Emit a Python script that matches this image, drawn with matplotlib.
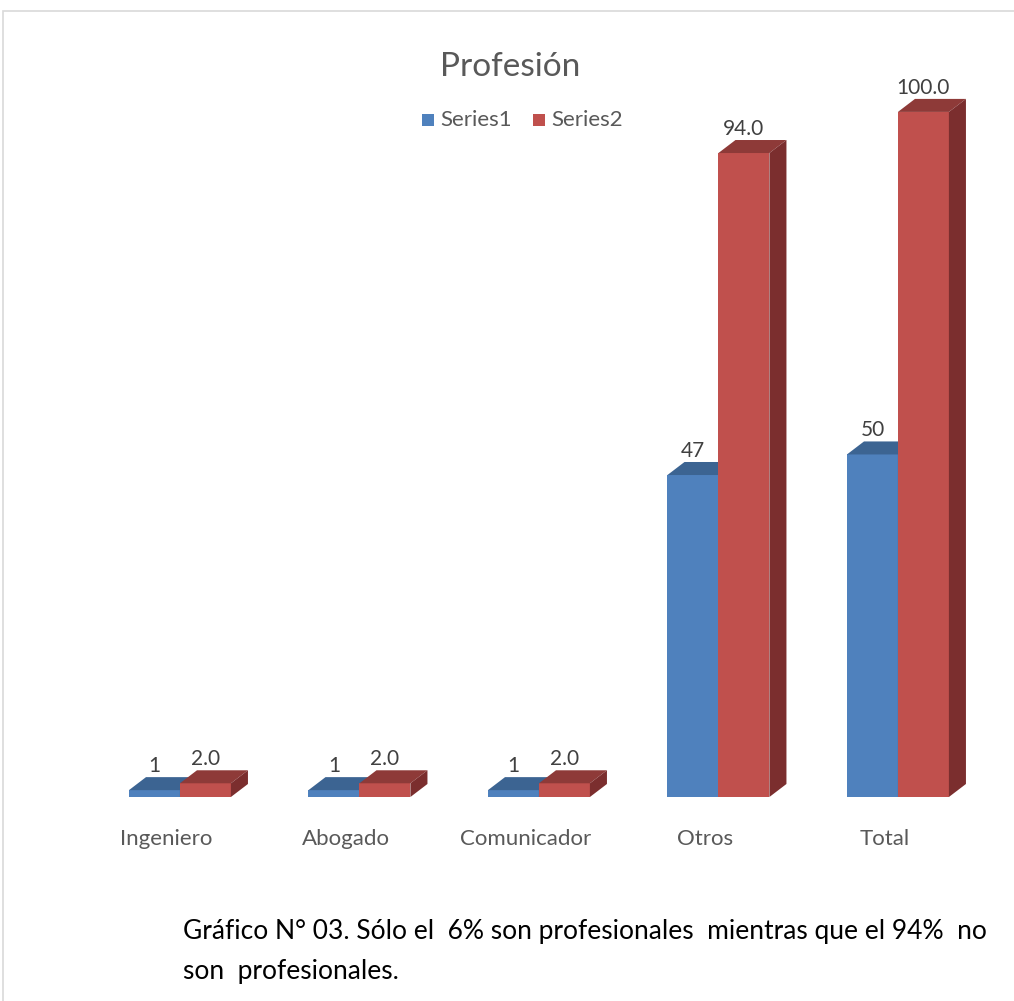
import matplotlib.pyplot as plt
from matplotlib.patches import Polygon, Rectangle

categories = ["Ingeniero", "Abogado", "Comunicador", "Otros", "Total"]
series1 = [1, 1, 1, 47, 50]
series2 = [2.0, 2.0, 2.0, 94.0, 100.0]
labels1 = ["1", "1", "1", "47", "50"]
labels2 = ["2.0", "2.0", "2.0", "94.0", "100.0"]

plt.rcParams['font.family'] = ['Lato', 'DejaVu Sans']

W, H = 1014, 1001
fig = plt.figure(figsize=(W / 100, H / 100), dpi=100)

# chart frame
fig.patches.append(Rectangle((3 / W, -0.01), 1.02, 1 - 11 / H + 0.01, transform=fig.transFigure,
                             fill=False, edgecolor="#d9d9d9", linewidth=1.2))

ax = fig.add_axes([90 / W, (H - 797) / H, 900 / W, 707 / H])
ax.set_xlim(-0.501, 4.513)
ax.set_ylim(0, 103.2)
ax.axis("off")

bw = 0.284
dx, dy = 0.095, 1.9

def bar3d(x0, h, front, top, side):
    ax.add_patch(Rectangle((x0, 0), bw, h, facecolor=front, edgecolor="none"))
    ax.add_patch(Polygon([(x0, h), (x0 + bw, h), (x0 + bw + dx, h + dy), (x0 + dx, h + dy)],
                         facecolor=top, edgecolor="none"))
    ax.add_patch(Polygon([(x0 + bw, 0), (x0 + bw + dx, dy), (x0 + bw + dx, h + dy), (x0 + bw, h)],
                         facecolor=side, edgecolor="none"))

for i in range(len(categories)):
    bar3d(i - bw, series1[i], "#4f81bd", "#3c6492", "#2f5177")
    bar3d(i, series2[i], "#c0504d", "#8e3a38", "#7b2e2e")
    ax.annotate(labels1[i], (i - bw / 2, series1[i] + dy), xytext=(0, 1), textcoords="offset points",
                ha="center", va="bottom", fontsize=15, color="#404040")
    ax.annotate(labels2[i], (i + bw / 2, series2[i] + dy), xytext=(0, 1), textcoords="offset points",
                ha="center", va="bottom", fontsize=15, color="#404040")
    ax.annotate(categories[i], (i - 0.075, 0), xytext=(0, -30), textcoords="offset points",
                ha="center", va="center", fontsize=16, color="#595959")

fig.text(510 / W, 1 - 67 / H, "Profesión", ha="center", va="center", fontsize=24, color="#595959")

# legend
fig.patches.append(Rectangle((422 / W, 1 - 126 / H), 12 / W, 12 / H, transform=fig.transFigure,
                             facecolor="#4f81bd", edgecolor="none"))
fig.text(440 / W, 1 - 120 / H, "Series1", ha="left", va="center", fontsize=16, color="#595959")
fig.patches.append(Rectangle((533 / W, 1 - 126 / H), 12 / W, 12 / H, transform=fig.transFigure,
                             facecolor="#c0504d", edgecolor="none"))
fig.text(551 / W, 1 - 120 / H, "Series2", ha="left", va="center", fontsize=16, color="#595959")

fig.text(183 / W, 1 - 931 / H, "Gráfico N° 03. Sólo el  6% son profesionales  mientras que el 94%  no",
         ha="left", va="center", fontsize=19, color="#000000")
fig.text(183 / W, 1 - 972 / H, "son  profesionales.", ha="left", va="center", fontsize=19, color="#000000")

fig.savefig("out.png", dpi=100)
